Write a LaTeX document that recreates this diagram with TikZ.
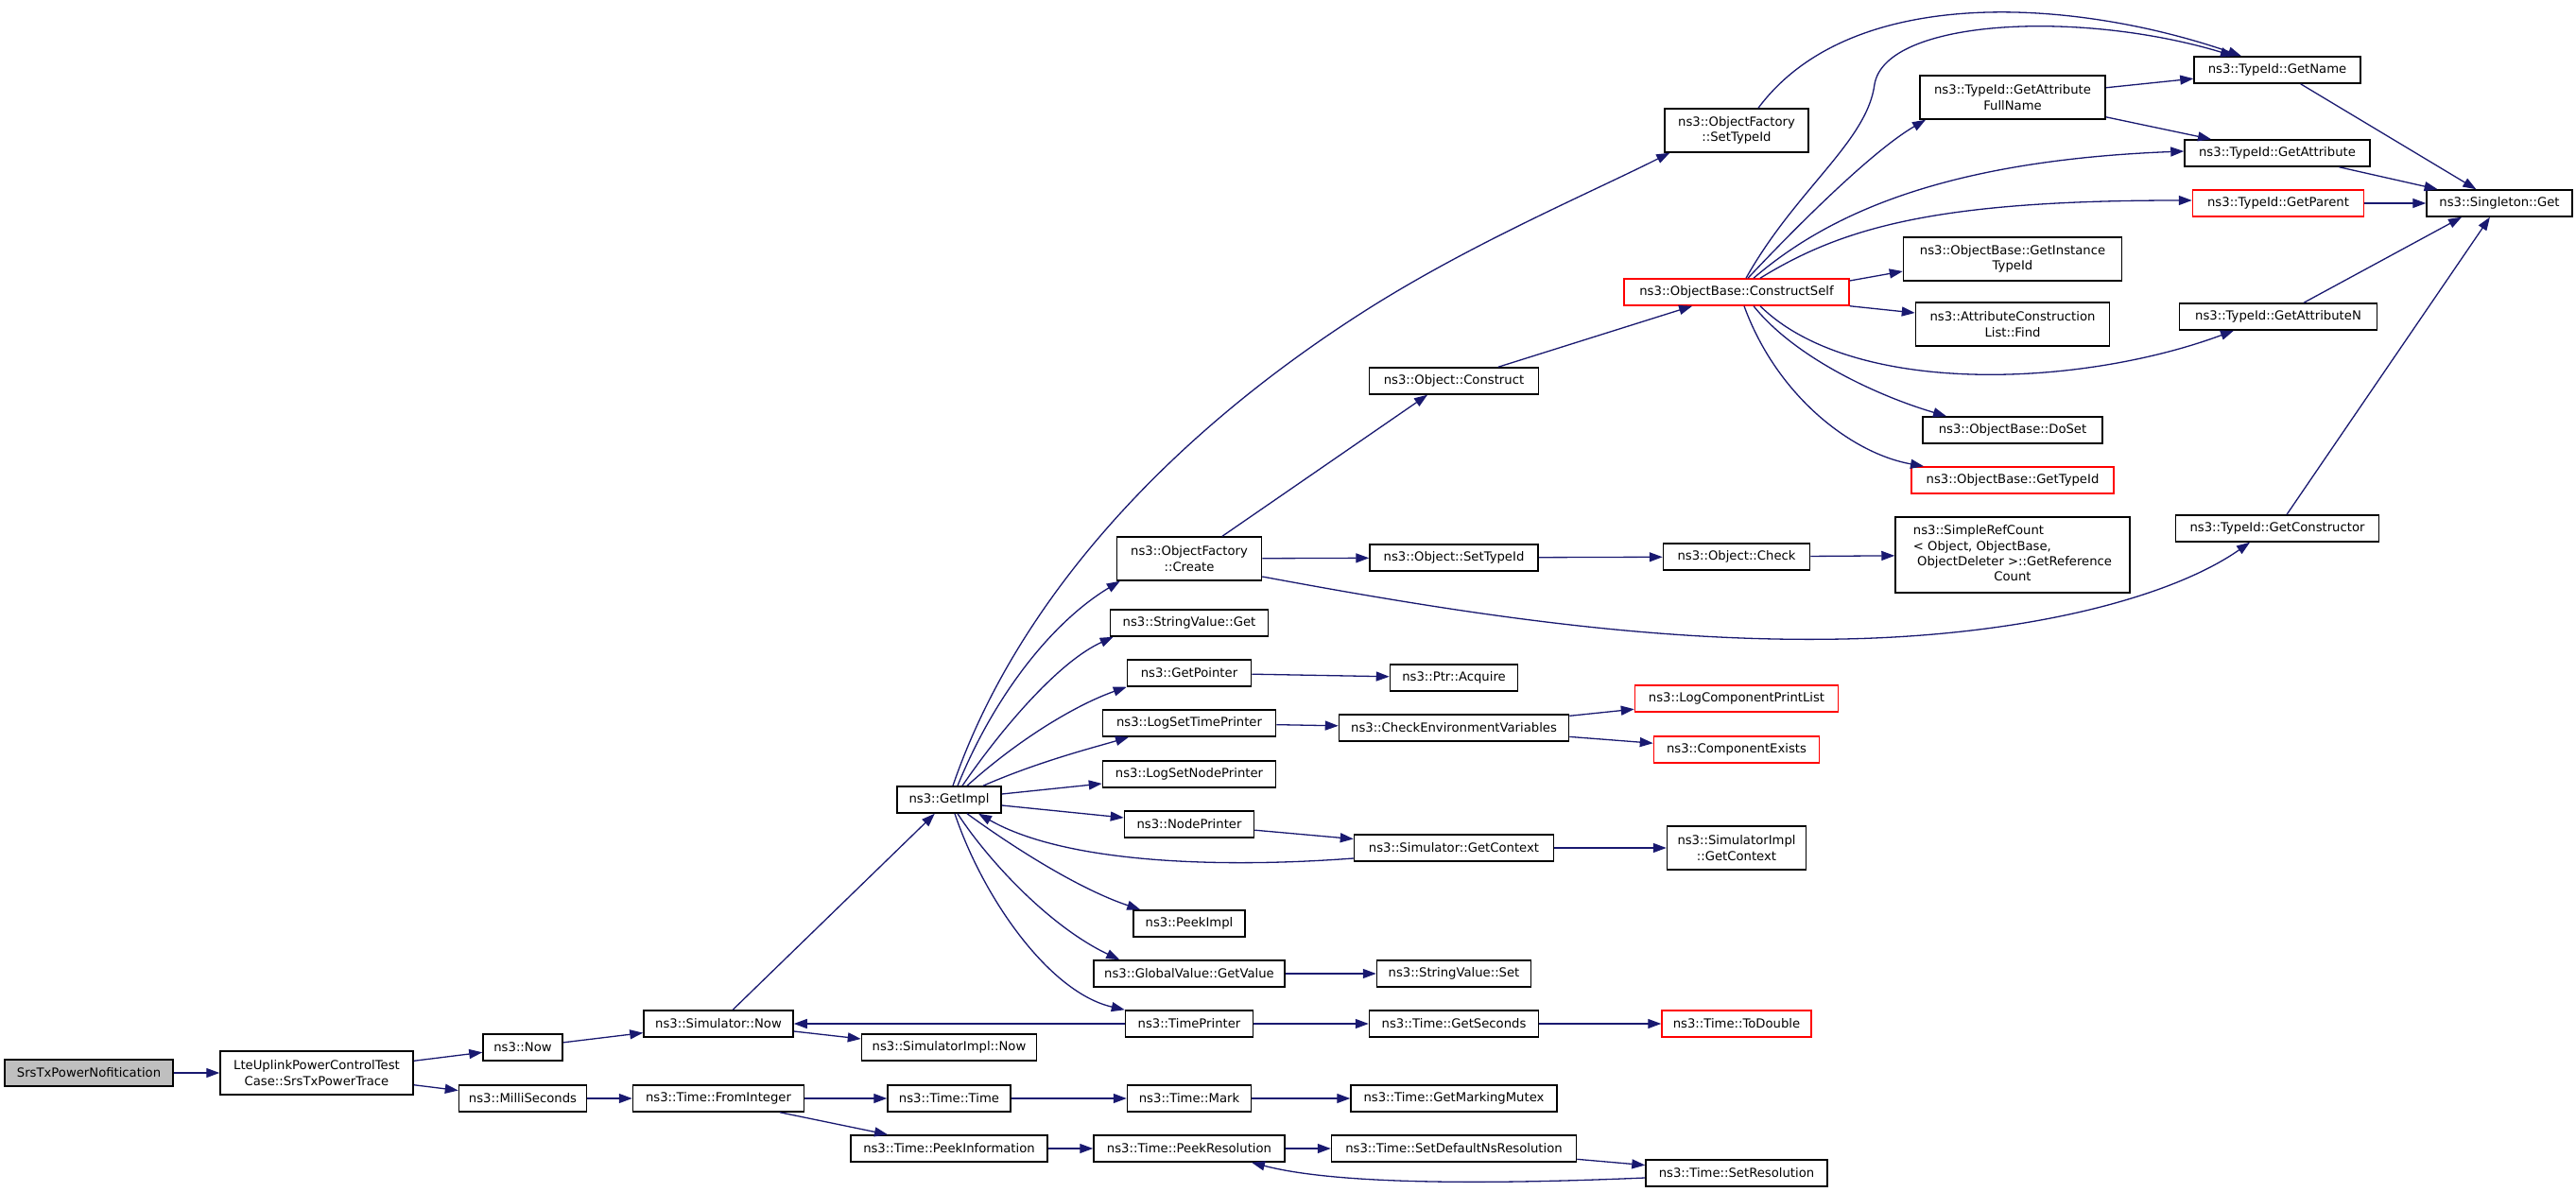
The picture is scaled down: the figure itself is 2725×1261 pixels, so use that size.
\documentclass[tikz,border=0pt]{standalone}
\usepackage{fontspec}
\setmainfont{DejaVu Sans}
\usetikzlibrary{arrows.meta}
\definecolor{edgeblue}{HTML}{191970}
\definecolor{grey75}{HTML}{BFBFBF}
\begin{document}
\begin{tikzpicture}[x=0.5pt,y=-0.5pt,
  fn/.style={draw=black, line width=0.75pt, fill=white, inner xsep=2pt, inner ysep=0pt,
     minimum height=14pt, align=center, font=\fontsize{6.6}{8.2}\selectfont},
  two/.style={minimum height=23pt},
  redbox/.style={draw=red},
  call/.style={draw=edgeblue, line width=0.65pt, -{Triangle[length=7pt,width=5pt]}}]
\path[use as bounding box, fill=white] (0,0) rectangle (2725,1261);

% nodes
\node[fn, fill=grey75, minimum width=89pt] (srs) at (94,1135) {SrsTxPowerNofitication};
\node[fn, two, minimum width=102pt] (lte) at (335,1135) {LteUplinkPowerControlTest\\Case::SrsTxPowerTrace};
\node[fn, minimum width=42pt] (now) at (553,1108) {ns3::Now};
\node[fn, minimum width=67.5pt] (milli) at (553,1162) {ns3::MilliSeconds};
\node[fn, minimum width=79pt] (simnow) at (760,1083) {ns3::Simulator::Now};
\node[fn, minimum width=90.5pt] (fromint) at (760,1162) {ns3::Time::FromInteger};
\node[fn, minimum width=92.5pt] (simimplnow) at (1004,1108) {ns3::SimulatorImpl::Now};
\node[fn, minimum width=67.5pt] (timeprinter) at (1258,1083) {ns3::TimePrinter};
\node[fn, minimum width=89.5pt] (getseconds) at (1538,1083) {ns3::Time::GetSeconds};
\node[fn, redbox, minimum width=79pt] (todouble) at (1837,1083) {ns3::Time::ToDouble};
\node[fn, minimum width=101pt] (getvalue) at (1258,1030) {ns3::GlobalValue::GetValue};
\node[fn, minimum width=81.5pt] (svset) at (1538,1030) {ns3::StringValue::Set};
\node[fn, minimum width=65pt] (timetime) at (1004,1162) {ns3::Time::Time};
\node[fn, minimum width=65.5pt] (mark) at (1258,1162) {ns3::Time::Mark};
\node[fn, minimum width=109pt] (mutex) at (1538,1162) {ns3::Time::GetMarkingMutex};
\node[fn, minimum width=104pt] (peekinfo) at (1004,1215) {ns3::Time::PeekInformation};
\node[fn, minimum width=101pt] (peekres) at (1258,1215) {ns3::Time::PeekResolution};
\node[fn, minimum width=129.5pt] (setdefns) at (1538,1215) {ns3::Time::SetDefaultNsResolution};
\node[fn, minimum width=96pt] (setres) at (1837,1241) {ns3::Time::SetResolution};
\node[fn, minimum width=55pt] (getimpl) at (1004,846) {ns3::GetImpl};
\node[fn, two, minimum width=76.5pt] (create) at (1258,591) {ns3::ObjectFactory\\::Create};
\node[fn, minimum width=83.5pt] (svget) at (1258,659) {ns3::StringValue::Get};
\node[fn, minimum width=65.5pt] (getpointer) at (1258,712) {ns3::GetPointer};
\node[fn, minimum width=91.5pt] (logsettime) at (1258,765) {ns3::LogSetTimePrinter};
\node[fn, minimum width=91.5pt] (logsetnode) at (1258,819) {ns3::LogSetNodePrinter};
\node[fn, minimum width=68.5pt] (nodeprinter) at (1258,872) {ns3::NodePrinter};
\node[fn, minimum width=59pt] (peekimpl) at (1258,977) {ns3::PeekImpl};
\node[fn, minimum width=89pt] (objsettypeid) at (1538,590) {ns3::Object::SetTypeId};
\node[fn, minimum width=77.5pt] (objcheck) at (1837,589) {ns3::Object::Check};
\node[fn, minimum width=67.5pt] (acquire) at (1538,717) {ns3::Ptr::Acquire};
\node[fn, minimum width=121.5pt] (checkenv) at (1538,770) {ns3::CheckEnvironmentVariables};
\node[fn, redbox, minimum width=107.5pt] (logcomp) at (1837,739) {ns3::LogComponentPrintList};
\node[fn, redbox, minimum width=87.5pt] (compexists) at (1837,793) {ns3::ComponentExists};
\node[fn, minimum width=105.5pt] (simgetctx) at (1538,897) {ns3::Simulator::GetContext};
\node[fn, two, minimum width=73.5pt] (simimplctx) at (1837,897) {ns3::SimulatorImpl\\::GetContext};
\node[fn, minimum width=124pt, minimum height=40pt] (simpleref) at (2129,587)
  {\begin{tabular}{@{}l@{}}ns3::SimpleRefCount\\
   {<} Object, ObjectBase,\\
   \ ObjectDeleter {>}::GetReference\\
   \multicolumn{1}{@{}c@{}}{Count}\end{tabular}};
\node[fn, two, minimum width=76pt] (factsettypeid) at (1837,138) {ns3::ObjectFactory\\::SetTypeId};
\node[fn, two, minimum width=98pt] (getattrfull) at (2129,103) {ns3::TypeId::GetAttribute\\FullName};
\node[fn, minimum width=88pt] (getname) at (2409,74) {ns3::TypeId::GetName};
\node[fn, minimum width=98pt] (getattr) at (2409,162) {ns3::TypeId::GetAttribute};
\node[fn, redbox, minimum width=90.5pt] (getparent) at (2410,215) {ns3::TypeId::GetParent};
\node[fn, minimum width=77pt] (singleton) at (2644,215) {ns3::Singleton::Get};
\node[fn, two, minimum width=115.5pt] (getinsttypeid) at (2129,274) {ns3::ObjectBase::GetInstance\\TypeId};
\node[fn, redbox, minimum width=119pt] (constructself) at (1837,309) {ns3::ObjectBase::ConstructSelf};
\node[fn, two, minimum width=102.5pt] (attrfind) at (2129,343) {ns3::AttributeConstruction\\List::Find};
\node[fn, minimum width=104.5pt] (getattrn) at (2410,335) {ns3::TypeId::GetAttributeN};
\node[fn, minimum width=89.5pt] (construct) at (1538,403) {ns3::Object::Construct};
\node[fn, minimum width=95pt] (doset) at (2129,455) {ns3::ObjectBase::DoSet};
\node[fn, redbox, minimum width=107pt] (gettypeid) at (2129,508) {ns3::ObjectBase::GetTypeId};
\node[fn, minimum width=107.5pt] (getconstructor) at (2409,559) {ns3::TypeId::GetConstructor};

% edges
\draw[call] (srs.east) -- (lte.west);
\draw[call] (lte) -- (now);
\draw[call] (lte) -- (milli);
\draw[call] (now) -- (simnow);
\draw[call] (milli.east) -- (fromint.west);
\draw[call] (simnow) -- (getimpl);
\draw[call] ([yshift=-4pt]simnow.east) -- ([yshift=4.5pt]simimplnow.west);
\draw[call] (timeprinter.west) -- (simnow.east);
\draw[call] (fromint.east) -- (timetime.west);
\draw[call] ([xshift=32.5pt]fromint.south) -- ([xshift=-32.5pt]peekinfo.north);
\draw[call] (timetime.east) -- (mark.west);
\draw[call] (mark.east) -- (mutex.west);
\draw[call] (peekinfo.east) -- (peekres.west);
\draw[call] (peekres.east) -- (setdefns.west);
\draw[call] (setdefns) -- (setres);
\draw[call] ([yshift=-2.5pt]setres.west) .. controls (1600,1252) and (1420,1255) .. ([xshift=33pt]peekres.south);

\draw[call] ([xshift=2pt]getimpl.north) .. controls (1070,650) and (1220,470) .. (1450,325)
   .. controls (1560,256) and (1680,205) .. ([xshift=3pt]factsettypeid.south west);
\draw[call] ([xshift=4.5pt]getimpl.north) .. controls (1050,740) and (1110,660) .. ([xshift=2pt]create.south west);
\draw[call] ([xshift=7pt]getimpl.north) .. controls (1060,770) and (1120,700) .. ([xshift=2pt]svget.south west);
\draw[call] ([xshift=9.5pt]getimpl.north) .. controls (1080,780) and (1140,745) .. (getpointer.south west);
\draw[call] ([xshift=18pt]getimpl.north) .. controls (1100,805) and (1160,790) .. ([xshift=-32pt]logsettime.south);
\draw[call] ([yshift=3pt]getimpl.east) -- ([yshift=-5pt]logsetnode.west);
\draw[call] ([yshift=-3pt]getimpl.east) -- ([yshift=3.5pt]nodeprinter.west);
\draw[call] ([yshift=-5.5pt]simgetctx.west) .. controls (1300,918) and (1130,915) .. ([xshift=15.5pt]getimpl.south);
\draw[call] ([xshift=9.5pt]getimpl.south) .. controls (1070,895) and (1140,940) .. ([xshift=4pt]peekimpl.north west);
\draw[call] ([xshift=4.5pt]getimpl.south) .. controls (1045,910) and (1110,980) .. ([xshift=14pt]getvalue.north west);
\draw[call] ([xshift=3pt]getimpl.south) .. controls (1040,950) and (1110,1050) .. (timeprinter.north west);

\draw[call] ([xshift=17.5pt]create.north) -- ([xshift=-14pt]construct.south);
\draw[call] (create) -- (objsettypeid);
\draw[call] ([yshift=-9.5pt]create.east) .. controls (1550,650) and (1750,680) .. (1950,676)
   .. controls (2150,672) and (2300,630) .. ([xshift=-14.5pt]getconstructor.south);
\draw[call] (objsettypeid) -- (objcheck);
\draw[call] (objcheck) -- (simpleref);
\draw[call] (getpointer) -- (acquire);
\draw[call] (logsettime) -- (checkenv);
\draw[call] (checkenv) -- (logcomp);
\draw[call] (checkenv) -- (compexists);
\draw[call] (nodeprinter) -- (simgetctx);
\draw[call] (simgetctx) -- (simimplctx);
\draw[call] (getvalue) -- (svset);
\draw[call] (timeprinter) -- (getseconds);
\draw[call] (getseconds) -- (todouble);

\draw[call] (construct) -- (constructself);
\draw[call] ([xshift=6pt]constructself.north) .. controls (1900,240) and (1980,160) .. ([xshift=-46pt]getattrfull.south);
\draw[call] ([xshift=5pt]constructself.north) .. controls (1900,200) and (1975,150) .. (1983,89)
   .. controls (1995,20) and (2200,10) .. ([xshift=-23pt]getname.north);
\draw[call] ([xshift=11.5pt]factsettypeid.north) .. controls (1960,-20) and (2200,0) .. ([xshift=-19pt]getname.north);
\draw[call] ([xshift=9pt]constructself.north) .. controls (1930,230) and (2050,170) .. ([yshift=1pt]getattr.west);
\draw[call] ([xshift=12.5pt]constructself.north) .. controls (1950,240) and (2050,212) .. ([yshift=1.5pt]getparent.west);
\draw[call] ([yshift=6pt]constructself.east) -- ([yshift=-6.5pt]getinsttypeid.west);
\draw[call] (constructself.south east) -- ([yshift=6pt]attrfind.west);
\draw[call] ([xshift=12.5pt]constructself.south) .. controls (1960,420) and (2200,410) .. ([xshift=-23.5pt]getattrn.south);
\draw[call] ([xshift=9pt]constructself.south) .. controls (1900,380) and (1990,420) .. ([xshift=-35pt]doset.north);
\draw[call] ([xshift=4pt]constructself.south) .. controls (1880,420) and (1960,480) .. ([xshift=-47pt]gettypeid.north);

\draw[call] (getattrfull) -- (getname);
\draw[call] (getattrfull) -- (getattr);
\draw[call] (getname) -- (singleton);
\draw[call] (getattr) -- (singleton);
\draw[call] (getparent) -- (singleton);
\draw[call] ([xshift=13.5pt]getattrn.north) -- ([xshift=-20pt]singleton.south);
\draw[call] (getconstructor) -- (singleton);
\end{tikzpicture}
\end{document}
